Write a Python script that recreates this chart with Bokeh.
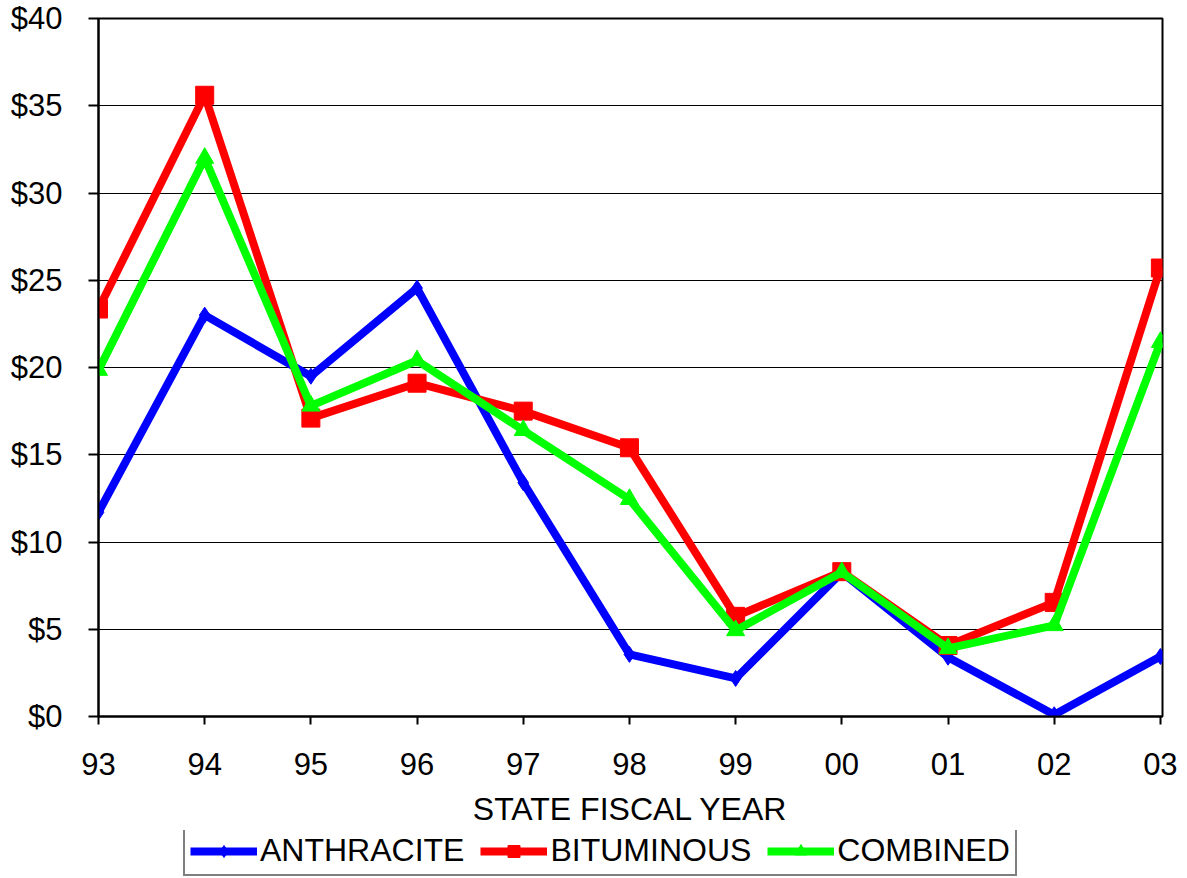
from bokeh.plotting import figure
from bokeh.models import Range1d, FixedTicker, Legend, LegendItem
from bokeh.layouts import column
from bokeh.embed import file_html
from bokeh.resources import INLINE

years = ["93", "94", "95", "96", "97", "98", "99", "00", "01", "02", "03"]
anthracite = [11.7, 23.0, 19.5, 24.55, 13.4, 3.56, 2.18, 8.26, 3.4, 0.1, 3.44]
bituminous = [23.35, 35.6, 17.1, 19.1, 17.5, 15.4, 5.74, 8.3, 4.07, 6.54, 25.7]
combined = [19.85, 32.0, 17.8, 20.4, 16.4, 12.45, 4.93, 8.26, 3.9, 5.22, 21.45]
y_ticks = [0, 5, 10, 15, 20, 25, 30, 35, 40]

FONT = "Liberation Sans"
xs = list(range(len(years)))

p = figure(width=1187, height=830, output_backend="svg", toolbar_location=None,
           x_range=Range1d(0, 10.02), y_range=Range1d(0, 40),
           min_border_left=98, min_border_top=18, min_border_right=25, min_border_bottom=114)
p.background_fill_color = "white"
p.border_fill_color = "white"
p.outline_line_color = "black"
p.outline_line_width = 2

p.xgrid.grid_line_color = None
p.ygrid.grid_line_color = "black"
p.ygrid.grid_line_width = 1
p.ygrid.ticker = FixedTicker(ticks=y_ticks)

p.yaxis.ticker = FixedTicker(ticks=y_ticks)
p.yaxis.major_label_overrides = {t: "$%d" % t for t in y_ticks}
p.xaxis.ticker = FixedTicker(ticks=xs)
p.xaxis.major_label_overrides = {i: y for i, y in enumerate(years)}

for ax in (p.xaxis[0], p.yaxis[0]):
    ax.axis_line_color = "black"
    ax.axis_line_width = 2
    ax.major_tick_line_color = "black"
    ax.major_tick_line_width = 2
    ax.major_tick_in = 0
    ax.minor_tick_line_color = None
    ax.major_label_text_font = FONT
    ax.major_label_text_font_size = "31px"
    ax.major_label_text_color = "black"

p.yaxis.major_tick_out = 10
p.yaxis.major_label_standoff = 26
p.xaxis.major_tick_out = 8
p.xaxis.major_label_standoff = 28
p.xaxis.axis_label = "STATE FISCAL YEAR"
p.xaxis.axis_label_text_font = FONT
p.xaxis.axis_label_text_font_size = "32px"
p.xaxis.axis_label_text_font_style = "normal"
p.xaxis.axis_label_text_color = "black"
p.xaxis.axis_label_standoff = 13

def draw(fig):
    l1 = fig.line(xs, anthracite, line_color="#0000FF", line_width=8)
    m1 = fig.scatter(xs, anthracite, marker="diamond", size=16, fill_color="#0000FF", line_color="#0000FF")
    l2 = fig.line(xs, bituminous, line_color="#FF0000", line_width=8)
    m2 = fig.scatter(xs, bituminous, marker="square", size=18, fill_color="#FF0000", line_color="#FF0000")
    l3 = fig.line(xs, combined, line_color="#00FF00", line_width=8)
    m3 = fig.scatter(xs, combined, marker="triangle", size=18, fill_color="#00FF00", line_color="#00FF00")
    return [(l1, m1), (l2, m2), (l3, m3)]

draw(p)

# legend strip below the chart (its lines lie outside its visible range)
q = figure(width=1187, height=48, output_backend="svg", toolbar_location=None,
           x_range=Range1d(100, 101), y_range=Range1d(100, 101),
           x_axis_type=None, y_axis_type=None,
           min_border_left=0, min_border_right=0, min_border_top=0, min_border_bottom=0)
q.outline_line_color = None
q.xgrid.grid_line_color = None
q.ygrid.grid_line_color = None
rs = draw(q)
names = ["ANTHRACITE", "BITUMINOUS", "COMBINED"]
legend = Legend(items=[LegendItem(label=n, renderers=list(r)) for n, r in zip(names, rs)],
                orientation="horizontal", location=(85, 2))
legend.label_text_font = FONT
legend.label_text_font_size = "32px"
legend.label_text_color = "black"
legend.glyph_width = 67
legend.glyph_height = 30
legend.label_standoff = 3
legend.spacing = 16
legend.padding = 5
legend.margin = 0
legend.border_line_color = "black"
legend.border_line_width = 2
legend.background_fill_color = "white"
q.add_layout(legend, "center")

layout = column(p, q, spacing=0)
open("out.html", "w").write(file_html(layout, INLINE))
